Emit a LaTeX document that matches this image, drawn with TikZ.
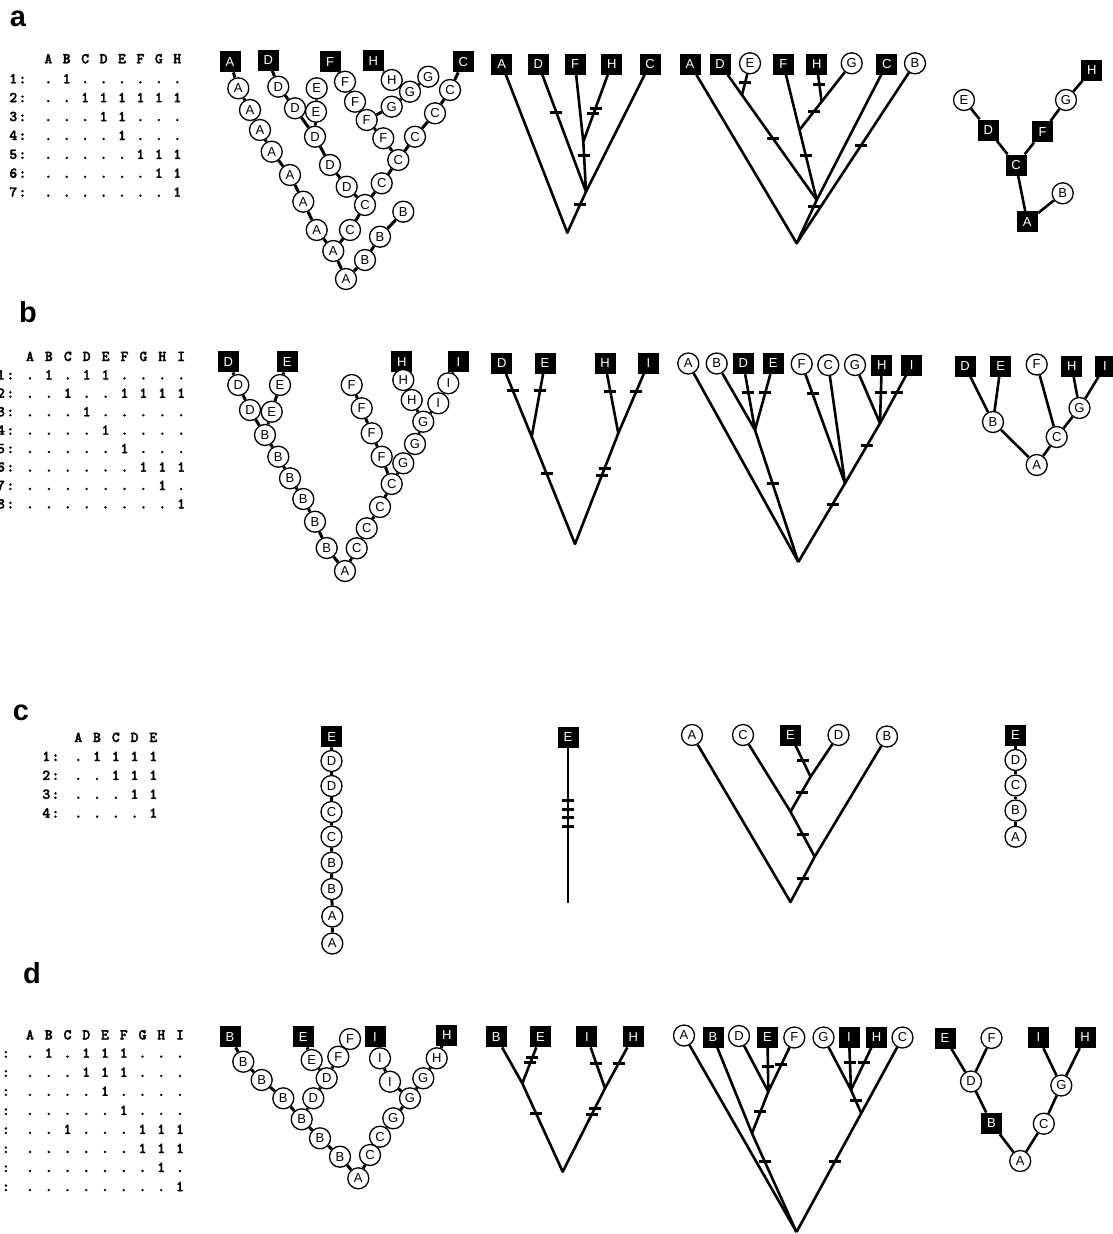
\documentclass[tikz,border=0pt]{standalone}
\usepackage{fontspec}
\setmainfont{Liberation Sans}
\setsansfont{Liberation Sans}
\newfontfamily\matfont{lmmonolt10-bold.otf}[FakeBold=2.2]
\usetikzlibrary{calc}
\pgfdeclarelayer{back}
\pgfdeclarelayer{bg}
\pgfsetlayers{back,bg,main}
\tikzset{
 sq/.style={rectangle, fill=black, text=white, minimum size=21pt, inner sep=0pt, font=\fontsize{13}{13}\selectfont},
 cir/.style={circle, draw=black, line width=1.3pt, fill=white, minimum size=21pt, inner sep=0pt, font=\fontsize{13}{13}\selectfont},
 br/.style={line width=2.6pt, line join=round},
 lnk/.style={line width=3pt},
 tk/.style={rectangle, fill=black, minimum width=12pt, minimum height=3pt, inner sep=0pt},
 mc/.style={anchor=base, inner sep=0pt, font=\matfont\fontsize{15}{15}\selectfont},
 plab/.style={anchor=base, inner sep=0pt, font=\bfseries\fontsize{29}{29}\selectfont}
}
% matrix row: name prefix, x of first column, pitch, baseline y, list of cells
\newcommand\mrow[5]{\foreach \c [count=\i from 0] in {#5} {\node[mc] (#1-\i) at ({#2+\i*#3},#4) {\c};}}
\begin{document}
\begin{tikzpicture}[x=1pt,y=-1pt]
\useasboundingbox (0,0) rectangle (1112,1234);
\begin{pgfonlayer}{back}
\fill[white] (0,0) rectangle (1112,1234);
\end{pgfonlayer}
% ---------- panel labels
\node[plab] (la) at (18,26) {a};
\node[plab] (lb) at (28,322) {b};
\node[plab] (lc) at (21,720.5) {c};
\node[plab] (ld) at (32,983) {d};
% ---------- matrix a
\mrow{maH}{48.3}{18.43}{63.3}{A,B,C,D,E,F,G,H}
\mrow{ma1}{48.3}{18.43}{83.3}{.,1,.,.,.,.,.,.}
\mrow{ma2}{48.3}{18.43}{102.2}{.,.,1,1,1,1,1,1}
\mrow{ma3}{48.3}{18.43}{121.1}{.,.,.,1,1,.,.,.}
\mrow{ma4}{48.3}{18.43}{140}{.,.,.,.,1,.,.,.}
\mrow{ma5}{48.3}{18.43}{158.9}{.,.,.,.,.,1,1,1}
\mrow{ma6}{48.3}{18.43}{177.8}{.,.,.,.,.,.,1,1}
\mrow{ma7}{48.3}{18.43}{196.7}{.,.,.,.,.,.,.,1}
\mrow{maL1}{13.3}{9.2}{83.3}{1,:}
\mrow{maL2}{13.3}{9.2}{102.2}{2,:}
\mrow{maL3}{13.3}{9.2}{121.1}{3,:}
\mrow{maL4}{13.3}{9.2}{140}{4,:}
\mrow{maL5}{13.3}{9.2}{158.9}{5,:}
\mrow{maL6}{13.3}{9.2}{177.8}{6,:}
\mrow{maL7}{13.3}{9.2}{196.7}{7,:}
% ---------- matrix b
\mrow{mbH}{30}{18.9}{361}{A,B,C,D,E,F,G,H,I}
\mrow{mb1}{30}{18.9}{379.4}{.,1,.,1,1,.,.,.,.}
\mrow{mb2}{30}{18.9}{397.8}{.,.,1,.,.,1,1,1,1}
\mrow{mb3}{30}{18.9}{416.3}{.,.,.,1,.,.,.,.,.}
\mrow{mb4}{30}{18.9}{434.7}{.,.,.,.,1,.,.,.,.}
\mrow{mb5}{30}{18.9}{453.1}{.,.,.,.,.,1,.,.,.}
\mrow{mb6}{30}{18.9}{471.6}{.,.,.,.,.,.,1,1,1}
\mrow{mb7}{30}{18.9}{490}{.,.,.,.,.,.,.,1,.}
\mrow{mb8}{30}{18.9}{508.4}{.,.,.,.,.,.,.,.,1}
\mrow{mbL1}{1}{9.4}{379.4}{1,:}
\mrow{mbL2}{1}{9.4}{397.8}{2,:}
\mrow{mbL3}{1}{9.4}{416.3}{3,:}
\mrow{mbL4}{1}{9.4}{434.7}{4,:}
\mrow{mbL5}{1}{9.4}{453.1}{5,:}
\mrow{mbL6}{1}{9.4}{471.6}{6,:}
\mrow{mbL7}{1}{9.4}{490}{7,:}
\mrow{mbL8}{1}{9.4}{508.4}{8,:}
% ---------- matrix c
\mrow{mcH}{78.3}{18.75}{742}{A,B,C,D,E}
\mrow{mc1}{78.3}{18.75}{761}{.,1,1,1,1}
\mrow{mc2}{78.3}{18.75}{779.9}{.,.,1,1,1}
\mrow{mc3}{78.3}{18.75}{798.8}{.,.,.,1,1}
\mrow{mc4}{78.3}{18.75}{817.7}{.,.,.,.,1}
\mrow{mcL1}{46.3}{9.2}{761}{1,:}
\mrow{mcL2}{46.3}{9.2}{779.9}{2,:}
\mrow{mcL3}{46.3}{9.2}{798.8}{3,:}
\mrow{mcL4}{46.3}{9.2}{817.7}{4,:}
% ---------- matrix d
\mrow{mdH}{30}{18.75}{1039.4}{A,B,C,D,E,F,G,H,I}
\mrow{md1}{30}{18.75}{1057.7}{.,1,.,1,1,1,.,.,.}
\mrow{md2}{30}{18.75}{1076.8}{.,.,.,1,1,1,.,.,.}
\mrow{md3}{30}{18.75}{1095.8}{.,.,.,.,1,.,.,.,.}
\mrow{md4}{30}{18.75}{1114.9}{.,.,.,.,.,1,.,.,.}
\mrow{md5}{30}{18.75}{1133.9}{.,.,1,.,.,.,1,1,1}
\mrow{md6}{30}{18.75}{1153}{.,.,.,.,.,.,1,1,1}
\mrow{md7}{30}{18.75}{1172}{.,.,.,.,.,.,.,1,.}
\mrow{md8}{30}{18.75}{1191.1}{.,.,.,.,.,.,.,.,1}
\mrow{mdL1}{-3.5}{9.4}{1057.7}{1,:}
\mrow{mdL2}{-3.5}{9.4}{1076.8}{2,:}
\mrow{mdL3}{-3.5}{9.4}{1095.8}{3,:}
\mrow{mdL4}{-3.5}{9.4}{1114.9}{4,:}
\mrow{mdL5}{-3.5}{9.4}{1133.9}{5,:}
\mrow{mdL6}{-3.5}{9.4}{1153}{6,:}
\mrow{mdL7}{-3.5}{9.4}{1172}{7,:}
\mrow{mdL8}{-3.5}{9.4}{1191.1}{8,:}

% =============== PANEL A
% tree 1
\node[sq] (a1sA) at (230,61.7) {A};
\node[sq] (a1sD) at (268.3,60) {D};
\node[sq] (a1sF) at (330,61.7) {F};
\node[sq] (a1sH) at (373.3,60.7) {H};
\node[sq] (a1sC) at (463.3,61.7) {C};
\node[cir] (a1A1) at (238.3,88.3) {A};
\node[cir] (a1A2) at (250,110) {A};
\node[cir] (a1A3) at (260,130) {A};
\node[cir] (a1A4) at (271.7,151.7) {A};
\node[cir] (a1A5) at (290,175) {A};
\node[cir] (a1A6) at (303.3,201.7) {A};
\node[cir] (a1A7) at (316.7,230) {A};
\node[cir] (a1A8) at (333.3,251) {A};
\node[cir] (a1A9) at (346,279) {A};
\node[cir] (a1D1) at (278.3,86.7) {D};
\node[cir] (a1D2) at (295,108.3) {D};
\node[cir] (a1D3) at (315,136.7) {D};
\node[cir] (a1D4) at (330,165) {D};
\node[cir] (a1D5) at (346.7,186.7) {D};
\node[cir] (a1E1) at (316.7,88.3) {E};
\node[cir] (a1E2) at (316,111.7) {E};
\node[cir] (a1F1) at (345,81.7) {F};
\node[cir] (a1F2) at (355,101.7) {F};
\node[cir] (a1F3) at (366.7,120) {F};
\node[cir] (a1F4) at (383.3,138.3) {F};
\node[cir] (a1H1) at (391.7,80) {H};
\node[cir] (a1G1) at (428.3,76.7) {G};
\node[cir] (a1G2) at (410,91.7) {G};
\node[cir] (a1G3) at (391.7,106.7) {G};
\node[cir] (a1C1) at (450,90) {C};
\node[cir] (a1C2) at (435,113.3) {C};
\node[cir] (a1C3) at (415,136.7) {C};
\node[cir] (a1C4) at (398.3,160) {C};
\node[cir] (a1C5) at (381.7,183.3) {C};
\node[cir] (a1C6) at (365,205) {C};
\node[cir] (a1C7) at (350,230) {C};
\node[cir] (a1B1) at (403.3,211.7) {B};
\node[cir] (a1B2) at (380,236.7) {B};
\node[cir] (a1B3) at (365,260) {B};
\begin{pgfonlayer}{bg}
\draw[lnk] (a1sA) -- (a1A1) -- (a1A2) -- (a1A3) -- (a1A4) -- (a1A5) -- (a1A6) -- (a1A7) -- (a1A8) -- (a1A9) -- (a1B3) -- (a1B2) -- (a1B1);
\draw[lnk] (a1A8) -- (a1C7) -- (a1C6) -- (a1C5) -- (a1C4) -- (a1C3) -- (a1C2) -- (a1C1) -- (a1sC);
\draw[lnk] (a1C6) -- (a1D5) -- (a1D4) -- (a1D3) -- (a1D2) -- (a1D1) -- (a1sD);
\draw[lnk] (a1D3) -- (a1E2) -- (a1E1);
\draw[lnk] (a1C4) -- (a1F4) -- (a1F3) -- (a1F2) -- (a1F1) -- (a1sF);
\draw[lnk] (a1F3) -- (a1G3) -- (a1G2) -- (a1G1);
\draw[lnk] (a1G2) -- (a1H1) -- (a1sH);
\end{pgfonlayer}
% tree 2
\node[sq] (a2A) at (501.7,64) {A};
\node[sq] (a2D) at (538.3,64) {D};
\node[sq] (a2F) at (575,64) {F};
\node[sq] (a2H) at (611.7,64) {H};
\node[sq] (a2C) at (650,64) {C};
\coordinate (a2r) at (567.3,232.7);
\coordinate (a2n1) at (586,191.7);
\coordinate (a2n2) at (583.3,141.7);
\begin{pgfonlayer}{bg}
\draw[br] (a2A) -- (a2r) -- (a2n1) -- (a2C);
\draw[br] (a2D) -- (a2n1) -- (a2n2) -- (a2F);
\draw[br] (a2n2) -- (a2H);
\end{pgfonlayer}
\node[tk] (a2t1) at ($(a2D)!0.381!(a2n1)$) {};
\node[tk] (a2t2) at ($(a2H)!0.57!(a2n2)$) {};
\node[tk] (a2t3) at ($(a2H)!0.643!(a2n2)$) {};
\node[tk] (a2t4) at ($(a2n2)!0.266!(a2n1)$) {};
\node[tk] (a2t5) at ($(a2n1)!0.324!(a2r)$) {};
% tree 3
\node[sq] (a3A) at (690,64) {A};
\node[sq] (a3D) at (720,64) {D};
\node[cir] (a3E) at (750,63.3) {E};
\node[sq] (a3F) at (783.3,64) {F};
\node[sq] (a3H) at (816.7,64) {H};
\node[cir] (a3G) at (851.7,63.3) {G};
\node[sq] (a3C) at (886.7,64) {C};
\node[cir] (a3B) at (915,63.3) {B};
\coordinate (a3r) at (796.7,243.3);
\coordinate (a3n1) at (816.7,200);
\coordinate (a3nE) at (742,95);
\coordinate (a3nG) at (799.5,130);
\coordinate (a3nH) at (821.6,101.7);
\begin{pgfonlayer}{bg}
\draw[br] (a3A) -- (a3r) -- (a3B);
\draw[br] (a3r) -- (a3n1) -- (a3C);
\draw[br] (a3D) -- (a3nE) -- (a3n1);
\draw[br] (a3E) -- (a3nE);
\draw[br] (a3F) -- (a3nG) -- (a3n1);
\draw[br] (a3G) -- (a3nH) -- (a3nG);
\draw[br] (a3H) -- (a3nH);
\end{pgfonlayer}
\node[tk] (a3t1) at ($(a3E)!0.61!(a3nE)$) {};
\node[tk] (a3t2) at ($(a3H)!0.54!(a3nH)$) {};
\node[tk] (a3t3) at ($(a3nH)!0.353!(a3nG)$) {};
\node[tk] (a3t4) at ($(a3nE)!0.412!(a3n1)$) {};
\node[tk] (a3t5) at ($(a3nG)!0.371!(a3n1)$) {};
\node[tk] (a3t6) at ($(a3B)!0.459!(a3r)$) {};
\node[tk] (a3t7) at ($(a3n1)!0.155!(a3r)$) {};
% tree 5
\node[sq] (a5H) at (1091.7,70) {H};
\node[cir] (a5G) at (1066,100) {G};
\node[sq] (a5F) at (1042.7,131.7) {F};
\node[sq] (a5C) at (1016,165) {C};
\node[sq] (a5D) at (988.3,130) {D};
\node[cir] (a5E) at (964,100) {E};
\node[sq] (a5A) at (1027.3,221.7) {A};
\node[cir] (a5B) at (1062.7,193.3) {B};
\begin{pgfonlayer}{bg}
\draw[br] (a5E) -- (a5D) -- (a5C) -- (a5F) -- (a5G) -- (a5H);
\draw[br] (a5C) -- (a5A) -- (a5B);
\end{pgfonlayer}

% =============== PANEL B
% tree 1
\node[sq] (b1sD) at (228.3,361.7) {D};
\node[sq] (b1sE) at (287.3,361.7) {E};
\node[sq] (b1sH) at (401.7,361.7) {H};
\node[sq] (b1sI) at (458.3,361.7) {I};
\node[cir] (b1D1) at (238.3,385) {D};
\node[cir] (b1D2) at (250,410) {D};
\node[cir] (b1E1) at (280,385) {E};
\node[cir] (b1E2) at (271.7,411.7) {E};
\node[cir] (b1B1) at (265,435) {B};
\node[cir] (b1B2) at (278.3,456.7) {B};
\node[cir] (b1B3) at (290,478.3) {B};
\node[cir] (b1B4) at (303.3,499) {B};
\node[cir] (b1B5) at (315,521.7) {B};
\node[cir] (b1B6) at (326.7,548) {B};
\node[cir] (b1A) at (345,571) {A};
\node[cir] (b1C1) at (356.7,548.3) {C};
\node[cir] (b1C2) at (366.7,528.3) {C};
\node[cir] (b1C3) at (380,507) {C};
\node[cir] (b1C4) at (391.7,484) {C};
\node[cir] (b1F4) at (381.7,456.7) {F};
\node[cir] (b1F3) at (371.7,433.3) {F};
\node[cir] (b1F2) at (361.7,408.3) {F};
\node[cir] (b1F1) at (351.7,385) {F};
\node[cir] (b1G1) at (403.3,463.3) {G};
\node[cir] (b1G2) at (415,444) {G};
\node[cir] (b1G3) at (423.3,421.7) {G};
\node[cir] (b1H2) at (411.7,400) {H};
\node[cir] (b1H1) at (403.3,380) {H};
\node[cir] (b1I2) at (438.3,403.3) {I};
\node[cir] (b1I1) at (448.3,383.3) {I};
\begin{pgfonlayer}{bg}
\draw[lnk] (b1sD) -- (b1D1) -- (b1D2) -- (b1B1);
\draw[lnk] (b1sE) -- (b1E1) -- (b1E2) -- (b1B1);
\draw[lnk] (b1B1) -- (b1B2) -- (b1B3) -- (b1B4) -- (b1B5) -- (b1B6) -- (b1A) -- (b1C1) -- (b1C2) -- (b1C3) -- (b1C4) -- (b1F4) -- (b1F3) -- (b1F2) -- (b1F1);
\draw[lnk] (b1C4) -- (b1G1) -- (b1G2) -- (b1G3) -- (b1H2) -- (b1H1) -- (b1sH);
\draw[lnk] (b1G3) -- (b1I2) -- (b1I1) -- (b1sI);
\end{pgfonlayer}
% tree 2
\node[sq] (b2D) at (501.7,363.3) {D};
\node[sq] (b2E) at (545,363.3) {E};
\node[sq] (b2H) at (605,363.3) {H};
\node[sq] (b2I) at (648.3,363.3) {I};
\coordinate (b2r) at (575,544);
\coordinate (b2nL) at (531.7,436.7);
\coordinate (b2nR) at (618.3,433.3);
\begin{pgfonlayer}{bg}
\draw[br] (b2D) -- (b2nL) -- (b2E);
\draw[br] (b2H) -- (b2nR) -- (b2I);
\draw[br] (b2nL) -- (b2r) -- (b2nR);
\end{pgfonlayer}
\node[tk] (b2t1) at ($(b2D)!0.364!(b2nL)$) {};
\node[tk] (b2t2) at ($(b2E)!0.364!(b2nL)$) {};
\node[tk] (b2t3) at ($(b2H)!0.406!(b2nR)$) {};
\node[tk] (b2t4) at ($(b2I)!0.406!(b2nR)$) {};
\node[tk] (b2t5) at ($(b2nL)!0.343!(b2r)$) {};
\node[tk] (b2t6) at ($(b2nR)!0.318!(b2r)$) {};
\node[tk] (b2t7) at ($(b2nR)!0.385!(b2r)$) {};
% tree 3
\node[cir] (b3A) at (688.3,363.5) {A};
\node[cir] (b3B) at (716.7,363.5) {B};
\node[sq] (b3D) at (743.3,363.5) {D};
\node[sq] (b3E) at (773.3,363.5) {E};
\node[cir] (b3F) at (801.7,364) {F};
\node[cir] (b3C) at (828.3,365) {C};
\node[cir] (b3G) at (855,365) {G};
\node[sq] (b3H) at (881.7,365) {H};
\node[sq] (b3I) at (911.7,365) {I};
\coordinate (b3r) at (798.3,562);
\coordinate (b3nDE) at (755,430);
\coordinate (b3nFC) at (845,483.3);
\coordinate (b3nG) at (880,423.3);
\begin{pgfonlayer}{bg}
\draw[br] (b3A) -- (b3r);
\draw[br] (b3B) -- (b3nDE) -- (b3r);
\draw[br] (b3D) -- (b3nDE) -- (b3E);
\draw[br] (b3F) -- (b3nFC) -- (b3C);
\draw[br] (b3G) -- (b3nG) -- (b3H);
\draw[br] (b3I) -- (b3nG) -- (b3nFC) -- (b3r);
\end{pgfonlayer}
\node[tk] (b3t1) at ($(b3D)!0.44!(b3nDE)$) {};
\node[tk] (b3t2) at ($(b3E)!0.44!(b3nDE)$) {};
\node[tk] (b3t3) at ($(b3F)!0.25!(b3nFC)$) {};
\node[tk] (b3t4) at ($(b3H)!0.475!(b3nG)$) {};
\node[tk] (b3t5) at ($(b3I)!0.475!(b3nG)$) {};
\node[tk] (b3t6) at ($(b3nG)!0.378!(b3nFC)$) {};
\node[tk] (b3t7) at ($(b3nDE)!0.405!(b3r)$) {};
\node[tk] (b3t8) at ($(b3nFC)!0.264!(b3r)$) {};
% tree 5
\node[sq] (b5D) at (965,366) {D};
\node[sq] (b5E) at (1000.7,366) {E};
\node[cir] (b5F) at (1036.7,364.5) {F};
\node[sq] (b5H) at (1071.7,366.5) {H};
\node[sq] (b5I) at (1105,366) {I};
\node[cir] (b5B) at (993,422) {B};
\node[cir] (b5G) at (1079.5,408) {G};
\node[cir] (b5C) at (1056.7,437) {C};
\node[cir] (b5A) at (1036.7,465) {A};
\begin{pgfonlayer}{bg}
\draw[br] (b5D) -- (b5B) -- (b5E);
\draw[br] (b5B) -- (b5A) -- (b5C) -- (b5F);
\draw[br] (b5C) -- (b5G) -- (b5H);
\draw[br] (b5G) -- (b5I);
\end{pgfonlayer}

% =============== PANEL C
% tree 1
\node[sq] (c1sE) at (331.7,736.7) {E};
\node[cir] (c1D1) at (331.5,761) {D};
\node[cir] (c1D2) at (331.5,786) {D};
\node[cir] (c1C1) at (331.5,812) {C};
\node[cir] (c1C2) at (331.5,836.7) {C};
\node[cir] (c1B1) at (331.7,862.7) {B};
\node[cir] (c1B2) at (331.7,889) {B};
\node[cir] (c1A1) at (332.3,916.5) {A};
\node[cir] (c1A2) at (332.3,943.5) {A};
\begin{pgfonlayer}{bg}
\draw[lnk] (c1sE) -- (c1D1) -- (c1D2) -- (c1C1) -- (c1C2) -- (c1B1) -- (c1B2) -- (c1A1) -- (c1A2);
\end{pgfonlayer}
% tree 2
\node[sq] (c2E) at (568,737.5) {E};
\coordinate (c2b) at (568,903);
\begin{pgfonlayer}{bg}
\draw[br] (c2E) -- (c2b);
\end{pgfonlayer}
\node[tk] (c2t1) at ($(c2E)!0.378!(c2b)$) {};
\node[tk] (c2t2) at ($(c2E)!0.434!(c2b)$) {};
\node[tk] (c2t3) at ($(c2E)!0.485!(c2b)$) {};
\node[tk] (c2t4) at ($(c2E)!0.535!(c2b)$) {};
% tree 3
\node[cir] (c3A) at (692,735) {A};
\node[cir] (c3C) at (743,735) {C};
\node[sq] (c3E) at (790.5,735) {E};
\node[cir] (c3D) at (838.5,735) {D};
\node[cir] (c3B) at (887,736.5) {B};
\coordinate (c3r) at (790.5,902);
\coordinate (c3nB) at (814.7,856.7);
\coordinate (c3nC) at (790.5,811.7);
\coordinate (c3nED) at (810.6,776.7);
\begin{pgfonlayer}{bg}
\draw[br] (c3A) -- (c3r) -- (c3nB) -- (c3B);
\draw[br] (c3C) -- (c3nC) -- (c3nB);
\draw[br] (c3nC) -- (c3nED) -- (c3D);
\draw[br] (c3E) -- (c3nED);
\end{pgfonlayer}
\node[tk] (c3t1) at ($(c3E)!0.62!(c3nED)$) {};
\node[tk] (c3t2) at ($(c3nED)!0.446!(c3nC)$) {};
\node[tk] (c3t3) at ($(c3nC)!0.502!(c3nB)$) {};
\node[tk] (c3t4) at ($(c3nB)!0.477!(c3r)$) {};
% tree 5
\node[sq] (c5E) at (1015.5,735.5) {E};
\node[cir] (c5D) at (1015.5,760) {D};
\node[cir] (c5C) at (1015.5,785.5) {C};
\node[cir] (c5B) at (1015.5,810.5) {B};
\node[cir] (c5A) at (1015.5,836.7) {A};
\begin{pgfonlayer}{bg}
\draw[lnk] (c5E) -- (c5D) -- (c5C) -- (c5B) -- (c5A);
\end{pgfonlayer}

% =============== PANEL D
% tree 1
\node[sq] (d1sB) at (230,1036.7) {B};
\node[sq] (d1sE) at (303.3,1036.7) {E};
\node[sq] (d1sI) at (375,1036.7) {I};
\node[sq] (d1sH) at (446.7,1035) {H};
\node[cir] (d1B1) at (243.3,1061.7) {B};
\node[cir] (d1B2) at (261.7,1080) {B};
\node[cir] (d1B3) at (283.3,1098.3) {B};
\node[cir] (d1B4) at (301.7,1119.3) {B};
\node[cir] (d1B5) at (320,1138.3) {B};
\node[cir] (d1B6) at (340,1156.7) {B};
\node[cir] (d1A) at (358.3,1178.3) {A};
\node[cir] (d1E1) at (311.7,1060) {E};
\node[cir] (d1F1) at (338.3,1056.7) {F};
\node[cir] (d1F2) at (350,1039) {F};
\node[cir] (d1D1) at (326.7,1078.3) {D};
\node[cir] (d1D2) at (313.3,1098.3) {D};
\node[cir] (d1I1) at (380,1058.3) {I};
\node[cir] (d1I2) at (390,1081.7) {I};
\node[cir] (d1G3) at (410,1098.3) {G};
\node[cir] (d1G4) at (423.3,1078.3) {G};
\node[cir] (d1H1) at (436.7,1058.3) {H};
\node[cir] (d1G2) at (393.3,1118.3) {G};
\node[cir] (d1C2) at (380,1136.7) {C};
\node[cir] (d1C1) at (370,1155) {C};
\begin{pgfonlayer}{bg}
\draw[lnk] (d1sB) -- (d1B1) -- (d1B2) -- (d1B3) -- (d1B4) -- (d1B5) -- (d1B6) -- (d1A) -- (d1C1) -- (d1C2) -- (d1G2) -- (d1G3) -- (d1I2) -- (d1I1) -- (d1sI);
\draw[lnk] (d1G3) -- (d1G4) -- (d1H1) -- (d1sH);
\draw[lnk] (d1B4) -- (d1D2) -- (d1D1) -- (d1E1) -- (d1sE);
\draw[lnk] (d1D1) -- (d1F1) -- (d1F2);
\end{pgfonlayer}
% tree 2
\node[sq] (d2B) at (496.1,1036.7) {B};
\node[sq] (d2E) at (540.5,1036.7) {E};
\node[sq] (d2I) at (586.9,1036.7) {I};
\node[sq] (d2H) at (633.2,1036.7) {H};
\coordinate (d2r) at (562.7,1171.7);
\coordinate (d2nL) at (522.3,1083.3);
\coordinate (d2nR) at (605,1088.3);
\begin{pgfonlayer}{bg}
\draw[br] (d2B) -- (d2nL) -- (d2E);
\draw[br] (d2I) -- (d2nR) -- (d2H);
\draw[br] (d2nL) -- (d2r) -- (d2nR);
\end{pgfonlayer}
\node[tk] (d2t1) at ($(d2E)!0.45!(d2nL)$) {};
\node[tk] (d2t2) at ($(d2E)!0.558!(d2nL)$) {};
\node[tk] (d2t3) at ($(d2I)!0.516!(d2nR)$) {};
\node[tk] (d2t4) at ($(d2H)!0.516!(d2nR)$) {};
\node[tk] (d2t5) at ($(d2nL)!0.339!(d2r)$) {};
\node[tk] (d2t6) at ($(d2nR)!0.24!(d2r)$) {};
\node[tk] (d2t7) at ($(d2nR)!0.308!(d2r)$) {};
% tree 3
\node[cir] (d3A) at (684,1035.5) {A};
\node[sq] (d3B) at (713,1037) {B};
\node[cir] (d3D) at (739,1036) {D};
\node[sq] (d3E) at (767.5,1037) {E};
\node[cir] (d3F) at (794.3,1037.5) {F};
\node[cir] (d3G) at (823.5,1037.5) {G};
\node[sq] (d3I) at (849,1037) {I};
\node[sq] (d3H) at (876.5,1037) {H};
\node[cir] (d3C) at (902.5,1037.5) {C};
\coordinate (d3r) at (796.5,1232);
\coordinate (d3nDEF) at (768.3,1091.7);
\coordinate (d3nB) at (752,1133.3);
\coordinate (d3nGIH) at (851,1090);
\coordinate (d3nC) at (861.2,1113.3);
\begin{pgfonlayer}{bg}
\draw[br] (d3A) -- (d3r);
\draw[br] (d3B) -- (d3nB) -- (d3r);
\draw[br] (d3nB) -- (d3nDEF) -- (d3D);
\draw[br] (d3E) -- (d3nDEF) -- (d3F);
\draw[br] (d3G) -- (d3nGIH) -- (d3I);
\draw[br] (d3H) -- (d3nGIH) -- (d3nC);
\draw[br] (d3C) -- (d3nC) -- (d3r);
\end{pgfonlayer}
\node[tk] (d3t1) at ($(d3E)!0.53!(d3nDEF)$) {};
\node[tk] (d3t2) at ($(d3F)!0.494!(d3nDEF)$) {};
\node[tk] (d3t3) at ($(d3nDEF)!0.48!(d3nB)$) {};
\node[tk] (d3t4) at ($(d3nB)!0.288!(d3r)$) {};
\node[tk] (d3t5) at ($(d3I)!0.485!(d3nGIH)$) {};
\node[tk] (d3t6) at ($(d3H)!0.485!(d3nGIH)$) {};
\node[tk] (d3t7) at ($(d3nGIH)!0.46!(d3nC)$) {};
\node[tk] (d3t8) at ($(d3nC)!0.408!(d3r)$) {};
% tree 5
\node[sq] (d5E) at (945,1038) {E};
\node[cir] (d5F) at (991.5,1038) {F};
\node[sq] (d5I) at (1038.3,1037.5) {I};
\node[sq] (d5H) at (1085,1037.5) {H};
\node[cir] (d5D) at (971,1081.5) {D};
\node[cir] (d5G) at (1061.3,1085.5) {G};
\node[sq] (d5B) at (991.5,1123.3) {B};
\node[cir] (d5C) at (1043.8,1123.7) {C};
\node[cir] (d5A) at (1020.2,1161) {A};
\begin{pgfonlayer}{bg}
\draw[br] (d5E) -- (d5D) -- (d5F);
\draw[br] (d5D) -- (d5B) -- (d5A) -- (d5C) -- (d5G) -- (d5I);
\draw[br] (d5G) -- (d5H);
\end{pgfonlayer}
\end{tikzpicture}
\end{document}
